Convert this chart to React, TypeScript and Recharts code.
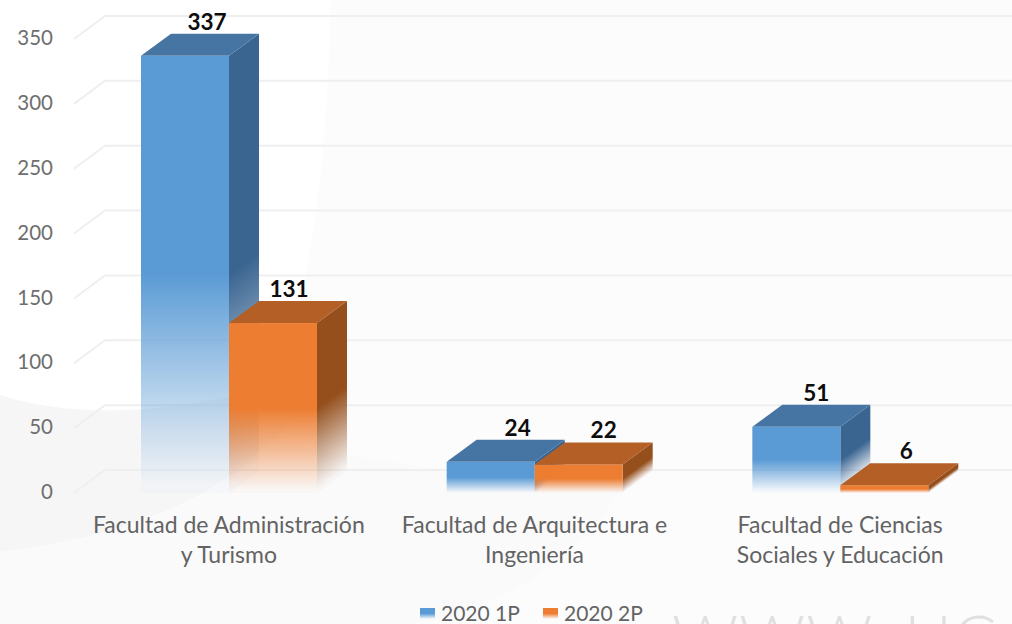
import { Bar, BarChart, CartesianGrid, LabelList, XAxis, YAxis } from "recharts";

const CATEGORIES = [
  "Facultad de Administración\ny Turismo",
  "Facultad de Arquitectura e\nIngeniería",
  "Facultad de Ciencias\nSociales y Educación",
];
const SERIES_1P = [337, 24, 51];
const SERIES_2P = [131, 22, 6];
const Y_TICKS = [0, 50, 100, 150, 200, 250, 300, 350];

const BLUE = { front: "#5b9bd5", side: "#3a6591", top: "#4675a3" };
const ORANGE = { front: "#ed7d31", side: "#944f1c", top: "#b35f26" };
const DEPTH_X = 30;
const DEPTH_Y = 22;
const FONT = "Lato, 'Open Sans', sans-serif";
// labels sit a little right of the bar centre, not by the same amount everywhere
const LABEL_SHIFT_1P = [22, 27, 20];
const LABEL_SHIFT_2P = [16, 25, 22];

const data = CATEGORIES.map((name, i) => ({ name, p1: SERIES_1P[i], p2: SERIES_2P[i] }));

function Fade({ id, color }: { id: string; color: string }) {
  return (
    <linearGradient id={id} x1="0" x2="0" y1="0" y2="1">
      <stop offset="50%" stopColor={color} stopOpacity={1} />
      <stop offset="98%" stopColor={color} stopOpacity={0.03} />
    </linearGradient>
  );
}

// front face + skewed side + top face
function Bar3D(props: any) {
  const { x, y, width, height, name: key, colors } = props;
  const right = x + width;
  const k = -DEPTH_Y / DEPTH_X;
  return (
    <g>
      <rect
        x={right}
        y={y}
        width={DEPTH_X}
        height={height}
        fill={`url(#${key}-side)`}
        transform={`matrix(1 ${k} 0 1 0 ${-k * right})`}
      />
      <rect x={x} y={y} width={width} height={height} fill={`url(#${key}-front)`} />
      <polygon
        points={`${x},${y} ${x + DEPTH_X},${y - DEPTH_Y} ${right + DEPTH_X},${y - DEPTH_Y} ${right},${y}`}
        fill={colors.top}
      />
    </g>
  );
}

function GridLine(props: any) {
  const { x1, x2, y1 } = props;
  return (
    <polyline
      points={`${x1 - 2},${y1} ${x1 + 29},${y1 - 23} ${x2 + 19},${y1 - 23}`}
      fill="none"
      stroke="#efeff0"
      strokeWidth={2}
    />
  );
}

function CategoryTick({ x, y, payload }: any) {
  return (
    <text x={x} y={y} textAnchor="middle" fill="#636363" fontSize={23} fontFamily={FONT}>
      {String(payload.value)
        .split("\n")
        .map((line, i) => (
          <tspan key={line} x={x} y={y + 32 + i * 30}>
            {line}
          </tspan>
        ))}
    </text>
  );
}

function ValueTick({ x, y, payload }: any) {
  return (
    <text x={53} y={y - 1} dy="0.35em" textAnchor="end" fill="#6e6e6e" fontSize={20.5} fontFamily={FONT}>
      {payload.value}
    </text>
  );
}

function ValueLabel({ x, y, width, value, index, shifts }: any) {
  return (
    <text
      x={x + width / 2 + shifts[index]}
      y={y - 34}
      dy="0.35em"
      textAnchor="middle"
      fill="#0d0d0d"
      fontSize={22.5}
      fontWeight={700}
      fontFamily={FONT}
    >
      {value}
    </text>
  );
}

function Backdrop() {
  return (
    <svg width={1012} height={624} style={{ position: "absolute", left: 0, top: 0 }}>
      <rect width={1012} height={624} fill="#ffffff" />
      <path d="M330 0 H1012 V624 H210 C250 480 330 300 330 0 Z" fill="#fcfcfd" />
      <path d="M0 395 C90 425 230 410 340 360 C300 420 250 470 190 500 C130 530 60 545 0 552 Z" fill="#f6f6f7" />
      <path d="M0 552 C100 540 210 510 270 440 C420 470 600 500 630 440 C640 520 500 624 400 624 H0 Z" fill="#fafafb" />
      <text x={672} y={662} fill="#e0e0e0" fontSize={65} fontWeight={300} fontFamily={FONT} letterSpacing={1}>
        WWW. UC
      </text>
    </svg>
  );
}

function LegendRow() {
  const items = [
    { label: "2020 1P", left: 420, color: "series-1p-front" },
    { label: "2020 2P", left: 543, color: "series-2p-front" },
  ];
  return (
    <svg width={1012} height={624} style={{ position: "absolute", left: 0, top: 0, pointerEvents: "none" }}>
      {items.map((it) => (
        <g key={it.label}>
          <rect x={it.left} y={608} width={15} height={11} fill={`url(#${it.color})`} />
          <text x={it.left + 21} y={621} fill="#636363" fontSize={21} fontFamily={FONT}>
            {it.label}
          </text>
        </g>
      ))}
    </svg>
  );
}

export default function App() {
  return (
    <div style={{ position: "absolute", left: 0, top: 0, width: 1012, height: 624, overflow: "hidden" }}>
      <Backdrop />
      <div style={{ position: "absolute", left: 0, top: 0 }}>
        <BarChart
          width={1012}
          height={624}
          data={data}
          barCategoryGap={65}
          barGap={0}
          margin={{ top: 39, right: 19, bottom: 0, left: 0 }}
        >
          <defs>
            <Fade id="series-1p-front" color={BLUE.front} />
            <Fade id="series-1p-side" color={BLUE.side} />
            <Fade id="series-2p-front" color={ORANGE.front} />
            <Fade id="series-2p-side" color={ORANGE.side} />
          </defs>
          <CartesianGrid vertical={false} horizontal={(p: any) => <GridLine key={p.y1} {...p} />} />
          <XAxis
            dataKey="name"
            interval={0}
            axisLine={false}
            tickLine={false}
            tick={<CategoryTick />}
            height={131}
          />
          <YAxis
            domain={[0, 350]}
            ticks={Y_TICKS}
            axisLine={false}
            tickLine={false}
            tick={<ValueTick />}
            width={76}
          />
          <Bar
            dataKey="p1"
            isAnimationActive={false}
            shape={(p: any) => <Bar3D {...p} name="series-1p" colors={BLUE} />}
          >
            <LabelList dataKey="p1" content={<ValueLabel shifts={LABEL_SHIFT_1P} />} />
          </Bar>
          <Bar
            dataKey="p2"
            isAnimationActive={false}
            shape={(p: any) => <Bar3D {...p} name="series-2p" colors={ORANGE} />}
          >
            <LabelList dataKey="p2" content={<ValueLabel shifts={LABEL_SHIFT_2P} />} />
          </Bar>
        </BarChart>
      </div>
      <LegendRow />
    </div>
  );
}
